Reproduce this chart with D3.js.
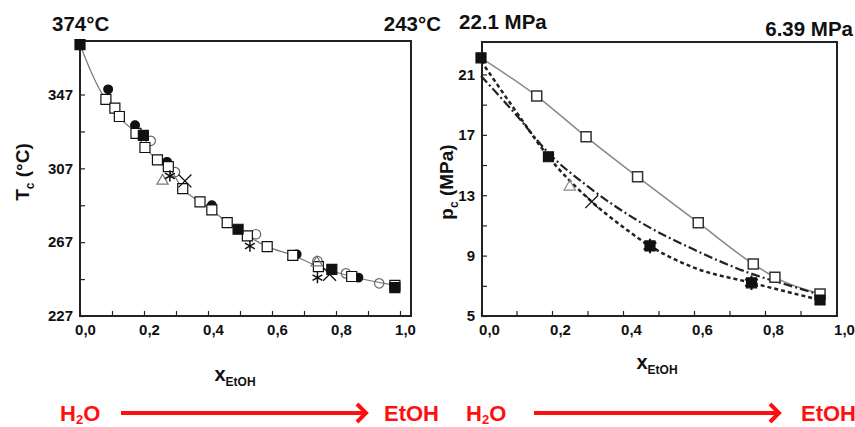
<!DOCTYPE html>
<html><head><meta charset="utf-8">
<script src="https://cdn.jsdelivr.net/npm/d3@7"></script>
<style>
body{margin:0;background:#fff}
text{font-family:"Liberation Sans",Arial,sans-serif;font-weight:bold;fill:#111}
</style>
</head><body><svg id="c" width="855" height="427"></svg>
<script>
// ---------- Left panel: critical temperature Tc (°C) vs x_EtOH ----------
const tOpenSquares = [[0.081,344.4],[0.109,339.6],[0.123,335.1],[0.175,326.0],[0.203,318.3],[0.242,311.6],[0.276,307.9],[0.321,296.0],[0.375,288.8],[0.412,284.5],[0.46,277.6],[0.523,270.4],[0.585,264.6],[0.665,259.9],[0.745,253.8],[0.849,248.4],[0.984,243.6]];
const tBlackSquares = [[0,374],[0.198,324.9],[0.494,274.0],[0.787,252.3],[0.984,242.4]];
const tBlackCircles = [[0.088,349.8],[0.172,330.4],[0.272,310.5],[0.412,287.0],[0.677,260.4],[0.87,247.8]];
const tOpenCircles = [[0.221,321.9],[0.297,305.0],[0.55,271.3],[0.742,256.8],[0.831,250.1],[0.935,244.7]];
const tTriangles = [[0.258,300.2],[0.74,255.9]];
const tAsterisks = [[0.281,302.9],[0.531,264.9],[0.742,247.8]];
const tCrosses = [[0.328,300.2],[0.78,249.6]];
const tLineStart = [[0,374]];
const tYTicks = [227,247,267,287,307,327,347];
const tYLabels = [227,267,307,347];

// ---------- Right panel: critical pressure pc (MPa) vs x_EtOH ----------
const pOpenSquares = [[0.157,19.57],[0.296,16.87],[0.441,14.22],[0.612,11.18],[0.767,8.44],[0.828,7.56],[0.955,6.46]];
const pSolidLineStart = [[0,22.1]];
const pBlackSquares = [[0,22.1],[0.19,15.55],[0.476,9.64],[0.762,7.2],[0.955,6.06]];
const pAsterisks = [[0.476,9.64],[0.762,7.2]];
const pTriangles = [[0.25,13.56]];
const pCrosses = [[0.312,12.57]];
const pDashed = [[0,21.9],[0.1,18.5],[0.19,15.55],[0.312,12.57],[0.4,10.9],[0.476,9.64],[0.6,8.2],[0.762,7.2],[0.955,6.06]];
const pDashDot = [[0,20.9],[0.1,18.3],[0.19,15.8],[0.3,13.6],[0.45,11.2],[0.6,9.4],[0.75,7.9],[0.9,6.8],[0.955,6.4]];
const pYTicks = [5,7,9,11,13,15,17,19,21];
const pYLabels = [5,9,13,17,21];

const xTicks = [0,0.1,0.2,0.3,0.4,0.5,0.6,0.7,0.8,0.9,1.0];
const xLabels = [0,0.2,0.4,0.6,0.8,1.0];
const titles = {left:["374°C","243°C"], right:["22.1 MPa","6.39 MPa"]};

const svg = d3.select("#c");
const fmtComma = d => d3.format(".1f")(d).replace(".", ",");

function panel(cfg){
  const g = svg.append("g");
  const x = d3.scaleLinear().domain([0,1]).range([cfg.x0, cfg.x1]);
  const y = d3.scaleLinear().domain(cfg.yDom).range([cfg.yb, cfg.yt]);
  // frame
  g.append("rect").attr("x",cfg.fl).attr("y",cfg.yt).attr("width",cfg.fr-cfg.fl).attr("height",cfg.yb-cfg.yt)
    .attr("fill","none").attr("stroke","#222").attr("stroke-width",2);
  // x axis (inside ticks)
  const xa = g.append("g").attr("transform",`translate(0,${cfg.yb})`)
    .call(d3.axisBottom(x).tickValues(xTicks).tickSizeInner(-5).tickSizeOuter(0)
      .tickFormat(d => xLabels.some(v=>Math.abs(v-d)<1e-9) ? fmtComma(d) : ""));
  xa.select(".domain").remove();
  xa.selectAll(".tick line").attr("stroke","#222").attr("stroke-width",1.2);
  xa.selectAll("text").attr("font-size",15).attr("dy","1.05em").attr("dx",cfg.xLabelDx).style("fill","#111");
  // y axis (inside ticks)
  const ya = g.append("g").attr("transform",`translate(${cfg.fl},0)`)
    .call(d3.axisLeft(y).tickValues(cfg.yTicks).tickSizeInner(-5).tickSizeOuter(0)
      .tickFormat(d => cfg.yLabels.includes(d) ? String(d) : ""));
  ya.select(".domain").remove();
  ya.selectAll(".tick line").attr("stroke","#222").attr("stroke-width",1.2);
  ya.selectAll("text").attr("font-size",15).attr("x",-7).style("fill","#111");
  // titles
  g.append("text").attr("x",cfg.t1x).attr("y",cfg.t1y).attr("font-size",20.5).text(cfg.titles[0]);
  g.append("text").attr("x",cfg.t2x).attr("y",cfg.t2y).attr("font-size",20.5).attr("text-anchor","end").text(cfg.titles[1]);
  // x label
  const xl = g.append("text").attr("x",cfg.xlx).attr("y",cfg.xly).attr("text-anchor","middle").attr("font-size",20);
  xl.append("tspan").text("x");
  xl.append("tspan").attr("font-size",12).attr("dy",5).text("EtOH");
  // y label
  const yl = g.append("text").attr("transform",`translate(${cfg.ylx},${cfg.yly}) rotate(-90)`)
    .attr("text-anchor","middle").attr("font-size",19);
  yl.append("tspan").text(cfg.yName);
  yl.append("tspan").attr("font-size",12).attr("dy",5).text("c");
  yl.append("tspan").attr("dy",-5).text(cfg.yUnit);
  return {g,x,y};
}

function marks(P, data, opt){
  const sym = d3.symbol().type(opt.type).size(opt.size);
  P.g.append("g").selectAll("path").data(data).join("path")
    .attr("transform", d => `translate(${P.x(d[0])},${P.y(d[1])})${opt.rot?` rotate(${opt.rot})`:""}`)
    .attr("d", sym)
    .attr("fill", opt.fill || "none")
    .attr("stroke", opt.stroke || "#111")
    .attr("stroke-width", opt.sw || 1.2);
}

// ---------- LEFT ----------
const L = panel({x0:80,x1:400,fl:80,fr:411,yt:41,yb:316,yDom:[227,376],yTicks:tYTicks,yLabels:tYLabels,
  xLabelDx:5,titles:titles.left,t1x:52,t1y:31,t2x:441,t2y:31,xlx:235,xly:381,ylx:29,yly:172,yName:"T",yUnit:" (°C)"});
const lineGen = P => d3.line().x(d=>P.x(d[0])).y(d=>P.y(d[1])).curve(d3.curveMonotoneX);
L.g.append("path").datum(tLineStart.concat(tOpenSquares)).attr("d",lineGen(L))
  .attr("fill","none").attr("stroke","#777").attr("stroke-width",1.2);
marks(L, tOpenCircles, {type:d3.symbolCircle,size:70,stroke:"#666"});
marks(L, tBlackCircles, {type:d3.symbolCircle,size:60,fill:"#111"});
marks(L, tOpenSquares, {type:d3.symbolSquare,size:100,fill:"#fff"});
marks(L, tTriangles, {type:d3.symbolTriangle,size:55,stroke:"#777"});
marks(L, tBlackSquares, {type:d3.symbolSquare,size:100,fill:"#111"});
marks(L, tAsterisks, {type:d3.symbolAsterisk,size:90,sw:1.5});
marks(L, tCrosses, {type:d3.symbolTimes,size:110,sw:1.3});

// ---------- RIGHT ----------
const R = panel({x0:481,x1:836,fl:482,fr:837,yt:42,yb:316,yDom:[5,23.15],yTicks:pYTicks,yLabels:pYLabels,
  xLabelDx:8,titles:titles.right,t1x:459,t1y:29,t2x:853,t2y:36,xlx:657,xly:369,ylx:453,yly:182,yName:"p",yUnit:" (MPa)"});
R.g.append("path").datum(pSolidLineStart.concat(pOpenSquares)).attr("d",lineGen(R))
  .attr("fill","none").attr("stroke","#888").attr("stroke-width",1.5);
R.g.append("path").datum(pDashDot).attr("d",lineGen(R))
  .attr("fill","none").attr("stroke","#222").attr("stroke-width",2.2).attr("stroke-dasharray","9,3,2,3");
R.g.append("path").datum(pDashed).attr("d",lineGen(R))
  .attr("fill","none").attr("stroke","#222").attr("stroke-width",2.5).attr("stroke-dasharray","4,3");
marks(R, pOpenSquares, {type:d3.symbolSquare,size:100,fill:"#fff",stroke:"#333",sw:1.5});
marks(R, pTriangles, {type:d3.symbolTriangle,size:55,stroke:"#888"});
marks(R, pCrosses, {type:d3.symbolTimes,size:110,sw:1.3});
marks(R, pBlackSquares, {type:d3.symbolSquare,size:100,fill:"#111"});
marks(R, pAsterisks, {type:d3.symbolAsterisk,size:150,sw:2});

// ---------- bottom arrows ----------
const arrows = [{h:60,a0:121,a1:366,e:384},{h:466,a0:534,a1:779,e:801}];
const red = "#ff1010";
arrows.forEach(a=>{
  const t = svg.append("text").attr("x",a.h).attr("y",421).attr("font-size",22).style("fill",red);
  t.append("tspan").text("H");
  t.append("tspan").attr("font-size",13).attr("dy",3).text("2");
  t.append("tspan").attr("dy",-3).text("O");
  svg.append("text").attr("x",a.e).attr("y",421).attr("font-size",22).style("fill",red).text("EtOH");
  svg.append("line").attr("x1",a.a0).attr("x2",a.a1-2).attr("y1",413).attr("y2",413).attr("stroke",red).attr("stroke-width",4);
  svg.append("path").attr("d",`M${a.a1-9},${404}L${a.a1},${413}L${a.a1-9},${422}`)
    .attr("fill","none").attr("stroke",red).attr("stroke-width",4);
});
</script>
</body></html>
